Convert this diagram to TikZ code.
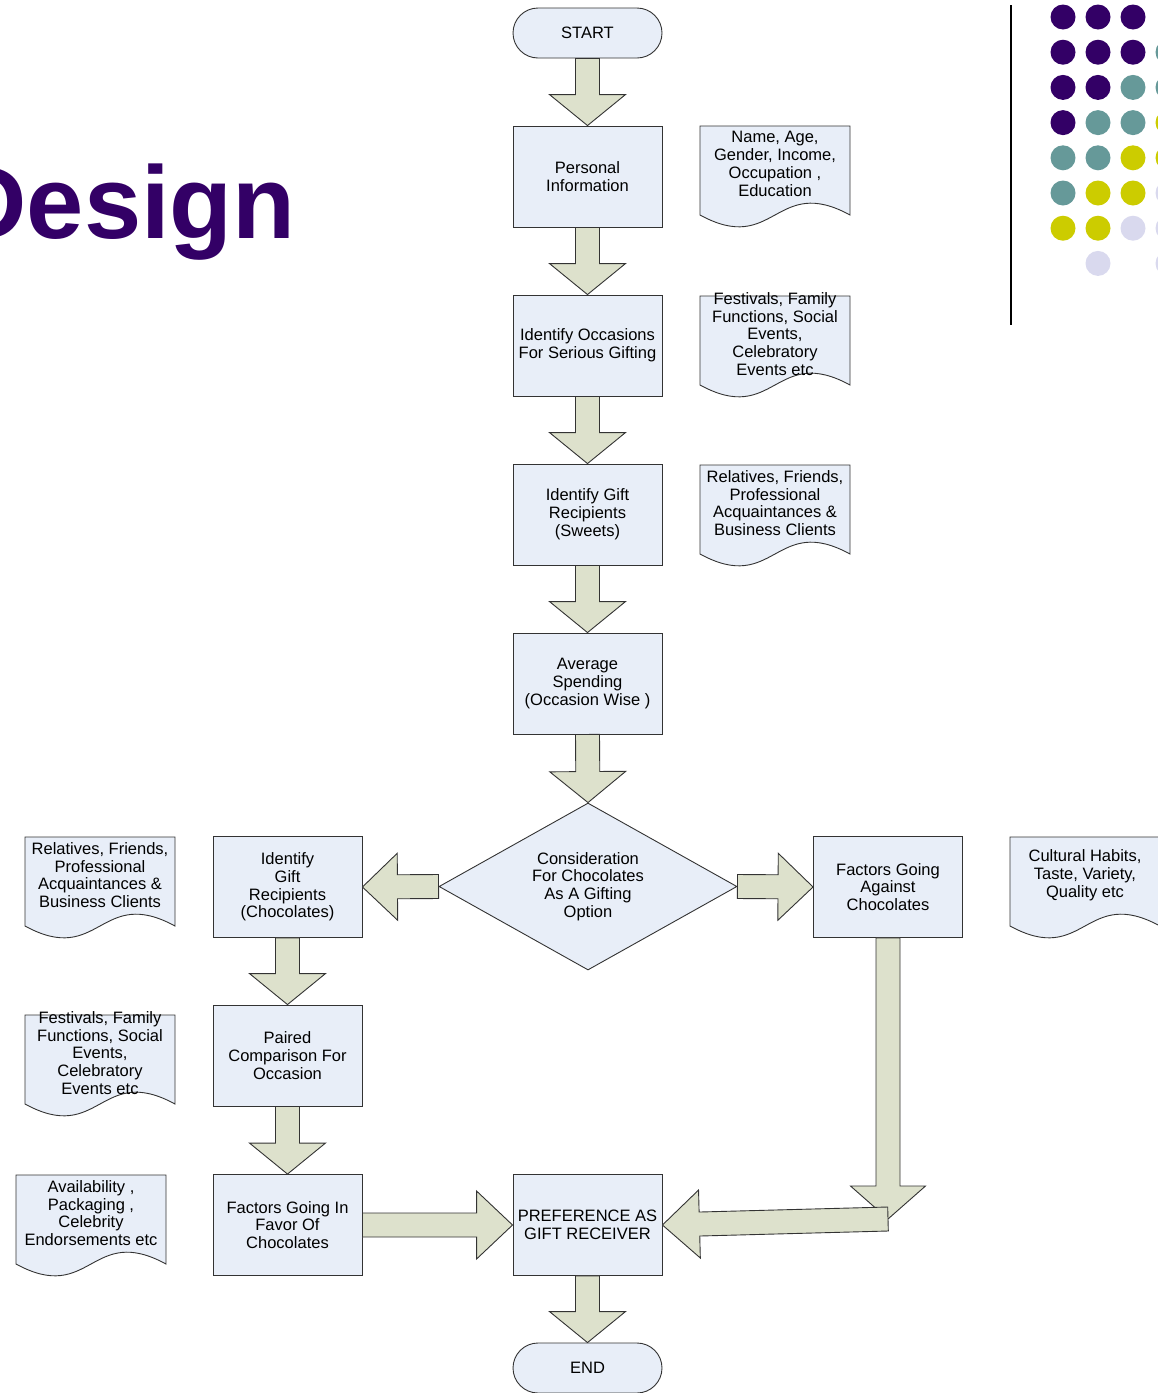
\documentclass[tikz,border=0pt]{standalone}
\usepackage{fontspec}
\setmainfont{Liberation Sans}
\usetikzlibrary{shapes.geometric,calc}
\definecolor{boxfill}{RGB}{232,238,248}
\definecolor{arrowfill}{RGB}{221,225,204}
\definecolor{titlepurple}{RGB}{51,0,102}
\definecolor{dotteal}{RGB}{102,153,153}
\definecolor{dotyellow}{RGB}{204,204,0}
\definecolor{dotlilac}{RGB}{217,217,238}
\tikzset{
    every node/.style={font=\fontsize{16.5}{17.8}\selectfont, align=center,
    	inner sep=2pt}
}
\tikzset{
    process/.style={rectangle, draw=black!80, fill=boxfill, line width=0.9pt,
    	minimum width=149pt, minimum height=101pt},
    terminal/.style={process, rounded corners=25pt, minimum height=50pt},
    decision/.style={diamond, draw=black!80, fill=boxfill, line width=0.9pt,
    	minimum width=298pt, minimum height=167pt, aspect=1.78, inner sep=0pt},
    docline/.style={draw=black!80, fill=boxfill, line width=0.9pt},
    flowarrow/.style={draw=black!80, fill=arrowfill, line width=0.9pt}
}
\pgfdeclarelayer{background}
\pgfsetlayers{background,main}

% wavy-bottomed document outline behind a text node
\newcommand{\docframe}[1]{%
	\begin{pgfonlayer}{background}
		\begin{scope}[shift={(#1.center)}]
			\draw[docline] (-75,-38) -- (75,-38) -- (75,51)
				.. controls (0,10) and (0,92) .. (-75,51) -- cycle;
		\end{scope}
	\end{pgfonlayer}}

% block arrow: tail, tip, head length, head half width
\newcommand{\blockarrow}[4]{%
	\coordinate (ba-tail) at (#1);
	\coordinate (ba-tip) at (#2);
	\coordinate (ba-base) at ($(ba-tip)!#3!(ba-tail)$);
	\draw[flowarrow] ($(ba-tail)!12pt!90:(ba-tip)$)
		-- ($(ba-base)!12pt!90:(ba-tip)$) -- ($(ba-base)!#4!90:(ba-tip)$)
		-- (ba-tip)
		-- ($(ba-base)!#4!-90:(ba-tip)$) -- ($(ba-base)!12pt!-90:(ba-tip)$)
		-- ($(ba-tail)!12pt!-90:(ba-tip)$) -- cycle;}

\begin{document}
\begin{tikzpicture}[x=1pt, y=-1pt]
	\useasboundingbox (0,0) rectangle (1158,1393);

	\node[anchor=base east, inner sep=0pt, text=titlepurple,
		font=\fontsize{103}{110}\selectfont\bfseries] (title) at (296,238) {Design};

	% dot grid and rule
	\draw[line width=2pt] (1011,5) -- (1011,325);
	\foreach \c/\r in {0/0,1/0,2/0,0/1,1/1,2/1,0/2,1/2,0/3}
		\fill[titlepurple] (1063+35*\c, 17+35.2*\r) circle (12.5pt);
	\foreach \c/\r in {3/1,2/2,3/2,1/3,2/3,0/4,1/4,0/5}
		\fill[dotteal] (1063+35*\c, 17+35.2*\r) circle (12.5pt);
	\foreach \c/\r in {3/3,2/4,3/4,1/5,2/5,0/6,1/6}
		\fill[dotyellow] (1063+35*\c, 17+35.2*\r) circle (12.5pt);
	\foreach \c/\r in {3/5,2/6,3/6,1/7,3/7}
		\fill[dotlilac] (1063+35*\c, 17+35.2*\r) circle (12.5pt);

	% main column
	\node[terminal] (start) at (587.5,33) {START};
	\node[process] (info) at (587.5,176.5) {Personal\\Information};
	\node[process] (occasions) at (587.5,345.5) {Identify Occasions\\For Serious Gifting};
	\node[process] (sweets) at (587.5,514.5) {Identify Gift\\Recipients\\(Sweets)};
	\node[process] (spending) at (587.5,683.5) {Average\\Spending\\(Occasion Wise )};
	\node[decision] (consider) at (588,886.5) {Consideration\\For Chocolates\\As A Gifting\\Option};
	\node[process] (pref) at (587.5,1225) {PREFERENCE AS\\GIFT RECEIVER};
	\node[terminal] (finish) at (587.5,1368) {END};

	% left and right branches
	\node[process] (choc) at (287.5,887) {Identify\\Gift\\Recipients\\(Chocolates)};
	\node[process] (paired) at (287.5,1055.5) {Paired\\Comparison For\\Occasion};
	\node[process] (favor) at (287.5,1225) {Factors Going In\\Favor Of\\Chocolates};
	\node[process] (against) at (888,887) {Factors Going\\Against\\Chocolates};
	\coordinate (bend) at (888,1219);

	% notes
	\node (nameage) at (775,164) {Name, Age,\\Gender, Income,\\Occupation ,\\Education};
	\node (festivals) at (775,334) {Festivals, Family\\Functions, Social\\Events,\\Celebratory\\Events etc};
	\node (relatives) at (775,503) {Relatives, Friends,\\Professional\\Acquaintances \&\\Business Clients};
	\node (relleft) at (100,875) {Relatives, Friends,\\Professional\\Acquaintances \&\\Business Clients};
	\node (festleft) at (100,1053) {Festivals, Family\\Functions, Social\\Events,\\Celebratory\\Events etc};
	\node (avail) at (91,1213) {Availability ,\\Packaging ,\\Celebrity\\Endorsements etc};
	\node (cultural) at (1085,875) {Cultural Habits,\\Taste, Variety,\\Quality etc};
	\docframe{nameage} \docframe{festivals} \docframe{relatives}
	\docframe{relleft} \docframe{festleft} \docframe{avail}
	\docframe{cultural}

	\blockarrow{start.south}{info.north}{31pt}{38pt}
	\blockarrow{info.south}{occasions.north}{31pt}{38pt}
	\blockarrow{occasions.south}{sweets.north}{31pt}{38pt}
	\blockarrow{sweets.south}{spending.north}{31pt}{38pt}
	\blockarrow{spending.south}{consider.north}{31pt}{38pt}
	\blockarrow{consider.west}{choc.east}{35pt}{33.5pt}
	\blockarrow{consider.east}{against.west}{35pt}{33.5pt}
	\blockarrow{choc.south}{paired.north}{31pt}{38pt}
	\blockarrow{paired.south}{favor.north}{31pt}{38pt}
	\blockarrow{favor.east}{pref.west}{36pt}{34pt}
	\blockarrow{against.south}{bend}{33pt}{37.5pt}
	\blockarrow{bend}{pref.east}{37pt}{34pt}
	\blockarrow{pref.south}{finish.north}{31pt}{38pt}
\end{tikzpicture}
\end{document}
